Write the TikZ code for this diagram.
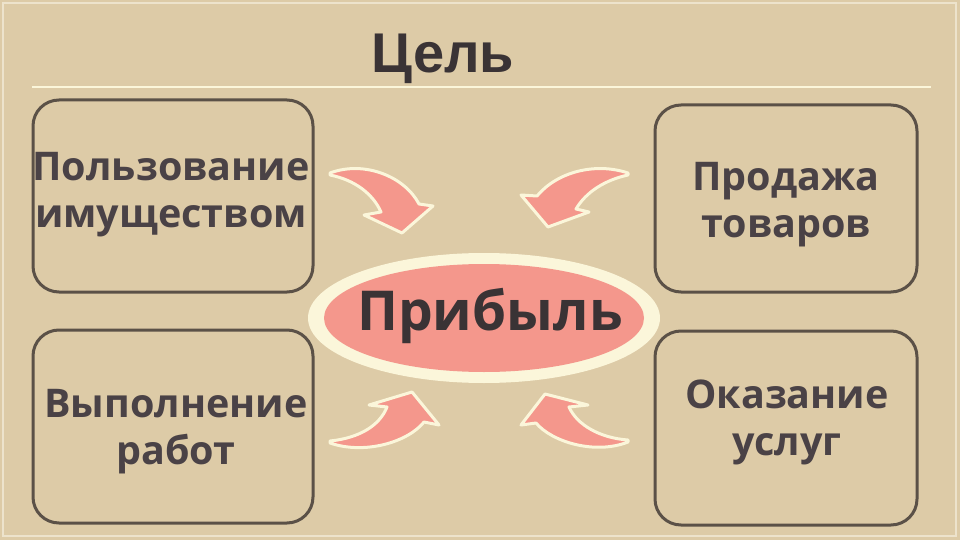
\documentclass[tikz,border=0pt]{standalone}
\usepackage{fontspec}
\setmainfont{Open Sans}
\newfontfamily\titlefont{Liberation Sans}
\definecolor{bgtan}{HTML}{DDCBA7}
\definecolor{frameedge}{HTML}{EDE3CC}
\definecolor{boxline}{HTML}{5B5147}
\definecolor{txt}{HTML}{4A4246}
\definecolor{titletxt}{HTML}{3A3335}
\definecolor{pinkfill}{HTML}{F4978C}
\definecolor{creamline}{HTML}{FBF6DA}
\begin{document}
\begin{tikzpicture}[x=1pt,y=-1pt,
  card/.style={draw=boxline,line width=3pt,rounded corners=26pt,inner sep=0pt},
  cardtext/.style={text=txt,font=\bfseries\fontsize{39.5}{46.5}\selectfont,align=center,anchor=base,inner sep=0pt},
  blockarrow/.style={fill=pinkfill,draw=creamline,line width=3pt,line join=round}]
\useasboundingbox (0,0) rectangle (960,540);
\fill[bgtan] (0,0) rectangle (960,540);
\draw[frameedge,line width=2pt] (3,3) rectangle (956,536);
% title and rule
\node[font=\titlefont\bfseries\fontsize{56}{60}\selectfont,text=titletxt,anchor=base,inner sep=0pt] (title) at (443,73) {Цель};
\coordinate (ruleL) at (32,87);
\coordinate (ruleR) at (931,87);
\draw[creamline,line width=1.5pt] (ruleL) -- (ruleR);
% boxes
\node[card,minimum width=280pt,minimum height=192pt] (tl) at (173,196) {};
\node[card,minimum width=262pt,minimum height=187pt] (tr) at (786,198.5) {};
\node[card,minimum width=280pt,minimum height=193pt] (bl) at (173,426.5) {};
\node[card,minimum width=262pt,minimum height=194pt] (br) at (786,428) {};
% box texts (anchor = baseline of last line)
\node[cardtext] (tltext) at (171,227) {Пользование\\имуществом};
\node[cardtext] (trtext) at (786,237) {Продажа\\товаров};
\node[cardtext] (bltext) at (176,464) {Выполнение\\работ};
\node[cardtext] (brtext) at (787,455) {Оказание\\услуг};
% central ellipse
\fill[creamline] (484,318) ellipse [x radius=176, y radius=65];
\fill[pinkfill] (484,318) ellipse [x radius=160, y radius=54];
\node[text=titletxt,font=\bfseries\fontsize{55}{60}\selectfont,anchor=base,inner sep=0pt] (profit) at (490,330) {Прибыль};
% block arrows
\path[blockarrow] (330,173) .. controls (365,160) and (405,177) .. (419,204) -- (433,206) -- (402,233) -- (364,215) -- (381,212) .. controls (373,194) and (355,180) .. (330,175) -- cycle;
\path[blockarrow] (628,173) .. controls (595,162) and (557,172) .. (537,196) -- (521,195) -- (548,227) -- (589,212) -- (576,209) .. controls (586,192) and (605,180) .. (628,175) -- cycle;
\path[blockarrow] (330,443) .. controls (365,455) and (408,442) .. (424,422) -- (439,425) -- (412,392) -- (369,405) -- (387,407) .. controls (380,425) and (360,438) .. (330,441) -- cycle;
\path[blockarrow] (628,442) .. controls (595,455) and (552,442) .. (536,423) -- (521,425) -- (545,394) -- (588,405) -- (569,407) .. controls (577,425) and (600,438) .. (628,440) -- cycle;
\end{tikzpicture}
\end{document}
